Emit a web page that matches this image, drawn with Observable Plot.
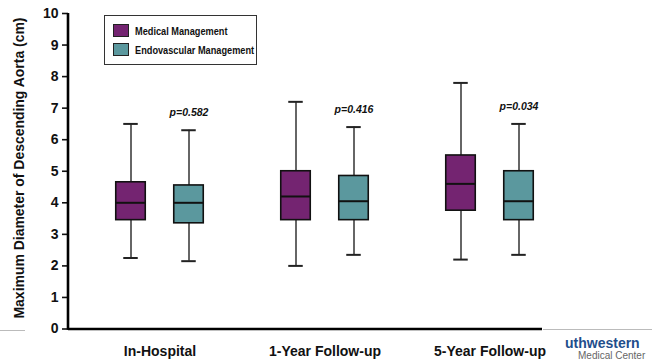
<!DOCTYPE html>
<html>
<head>
<meta charset="utf-8">
<script src="https://cdn.jsdelivr.net/npm/d3@7"></script>
<script src="https://cdn.jsdelivr.net/npm/@observablehq/plot@0.6"></script>
<style>
  html, body { margin: 0; padding: 0; background: #fff; }
  #wrap { position: relative; width: 652px; height: 362px; overflow: hidden; font-family: "Liberation Sans", Arial, sans-serif; }
  #chart { position: absolute; left: 0; top: 0; }
  .ylab { position: absolute; left: 19px; top: 168px; transform: translate(-50%, -50%) rotate(-90deg) scaleX(0.9); white-space: nowrap; font-weight: bold; font-size: 15.5px; color: #111; }
  .legend { position: absolute; left: 104px; top: 15px; width: 151px; height: 48px; border: 1px solid #333; background: #fff; }
  .legend .row { position: absolute; left: 8px; display: flex; align-items: center; white-space: nowrap; font-weight: bold; font-size: 11.5px; color: #111; }
  .legend .sw { width: 14px; height: 11px; border: 1px solid #222; margin-right: 6px; flex: none; }
  .legend .lt { display: inline-block; transform: scaleX(0.8); transform-origin: left center; }
  .logo1 { position: absolute; left: 565px; top: 335px; font-weight: bold; font-size: 14px; color: #1f4e8c; white-space: nowrap; }
  .logo2 { position: absolute; left: 578px; top: 350px; font-size: 10px; color: #666; white-space: nowrap; }
  .deco { position: absolute; height: 1px; background: #bbb; }
</style>
</head>
<body>
<div id="wrap">
  <div id="chart"></div>
</div>
<script>
const groups = ["In-Hospital", "1-Year Follow-up", "5-Year Follow-up"];
const seriesNames = ["Medical Management", "Endovascular Management"];
const seriesColors = ["#742471", "#5b989e"];
const medMin = [2.25, 2.0, 2.2];
const medQ1 = [3.45, 3.45, 3.75];
const medMedian = [4.0, 4.2, 4.6];
const medQ3 = [4.65, 5.0, 5.5];
const medMax = [6.5, 7.2, 7.8];
const endoMin = [2.15, 2.35, 2.35];
const endoQ1 = [3.35, 3.45, 3.45];
const endoMedian = [4.0, 4.05, 4.05];
const endoQ3 = [4.55, 4.85, 5.0];
const endoMax = [6.3, 6.4, 6.5];
const pValues = ["p=0.582", "p=0.416", "p=0.034"];
const yTicks = [0, 1, 2, 3, 4, 5, 6, 7, 8, 9, 10];

const med = groups.map((g, i) => ({group: g, min: medMin[i], q1: medQ1[i], median: medMedian[i], q3: medQ3[i], max: medMax[i]}));
const endo = groups.map((g, i) => ({group: g, min: endoMin[i], q1: endoQ1[i], median: endoMedian[i], q3: endoQ3[i], max: endoMax[i], p: pValues[i]}));

const W = 652, H = 362;
const mL = 68, mR = 110, mT = 13, mB = 33.5;
const bandStart = 75.75, bandEnd = 572.25;
const bw = (bandEnd - bandStart) / groups.length;
const half = bw / 2;
const off = 29, boxW = 30, capW = 15;
const boxIn = (sign) => sign < 0
  ? {insetLeft: half - off - boxW / 2, insetRight: half + off - boxW / 2}
  : {insetLeft: half + off - boxW / 2, insetRight: half - off - boxW / 2};
const capIn = (sign) => sign < 0
  ? {insetLeft: half - off - capW / 2, insetRight: half + off - capW / 2}
  : {insetLeft: half + off - capW / 2, insetRight: half - off - capW / 2};

function boxMarks(data, sign, color) {
  return [
    Plot.ruleX(data, {x: "group", y1: "min", y2: "max", dx: sign * off, stroke: "#333", strokeWidth: 1.5}),
    Plot.tickY(data, {x: "group", y: "min", stroke: "#222", strokeWidth: 2, ...capIn(sign)}),
    Plot.tickY(data, {x: "group", y: "max", stroke: "#222", strokeWidth: 2, ...capIn(sign)}),
    Plot.barY(data, {x: "group", y1: "q1", y2: "q3", fill: color, stroke: "#111", strokeWidth: 1.6, ...boxIn(sign)}),
    Plot.tickY(data, {x: "group", y: "median", stroke: "#111", strokeWidth: 2, ...boxIn(sign)})
  ];
}

const chart = Plot.plot({
  width: W, height: H,
  marginLeft: mL, marginRight: mR, marginTop: mT, marginBottom: mB,
  style: {fontFamily: '"Liberation Sans", Arial, sans-serif', background: "#fff", overflow: "visible"},
  x: {type: "band", domain: groups, range: [bandStart, bandEnd], padding: 0},
  y: {domain: [0, 10], range: [H - mB, mT]},
  marks: [
    Plot.axisY({ticks: yTicks, tickSize: 6, tickPadding: 4, fontSize: 14, fontWeight: "bold", stroke: "#111", strokeWidth: 1.6, fill: "#111", label: null}),
    Plot.axisX({tickSize: 0, tickPadding: 17, fontSize: 14, fontWeight: "bold", fill: "#111", label: null}),
    ...boxMarks(med, -1, seriesColors[0]),
    ...boxMarks(endo, 1, seriesColors[1]),
    Plot.text(endo, {x: "group", y: d => d.max + 0.55, dx: off, text: "p", fontSize: 10.5, fontWeight: "bold", fontStyle: "italic", fill: "#111"}),
    Plot.ruleY([0], {stroke: "#000", strokeWidth: 2.6})
  ]
});

const ys = chart.scale("y");
const svg = d3.select(chart);
svg.append("line")
  .attr("x1", mL).attr("x2", mL)
  .attr("y1", ys.apply(10)).attr("y2", ys.apply(0) + 1.3)
  .attr("stroke", "#000").attr("stroke-width", 2.6);

const wrap = document.getElementById("wrap");
document.getElementById("chart").appendChild(chart);

const ylab = document.createElement("div");
ylab.className = "ylab";
ylab.textContent = "Maximum Diameter of Descending Aorta (cm)";
wrap.appendChild(ylab);

const legend = document.createElement("div");
legend.className = "legend";
seriesNames.forEach((name, i) => {
  const row = document.createElement("div");
  row.className = "row";
  row.style.top = (8 + i * 19) + "px";
  const sw = document.createElement("div");
  sw.className = "sw";
  sw.style.background = seriesColors[i];
  const t = document.createElement("span");
  t.className = "lt";
  t.textContent = name;
  row.appendChild(sw); row.appendChild(t);
  legend.appendChild(row);
});
wrap.appendChild(legend);

const l1 = document.createElement("div"); l1.className = "logo1"; l1.textContent = "uthwestern"; wrap.appendChild(l1);
const l2 = document.createElement("div"); l2.className = "logo2"; l2.textContent = "Medical Center"; wrap.appendChild(l2);
const d1 = document.createElement("div"); d1.className = "deco"; d1.style.left = "0px"; d1.style.width = "25px"; d1.style.top = "330px"; wrap.appendChild(d1);
const d2 = document.createElement("div"); d2.className = "deco"; d2.style.left = "543px"; d2.style.width = "109px"; d2.style.top = "329px"; wrap.appendChild(d2);
</script>
</body>
</html>
